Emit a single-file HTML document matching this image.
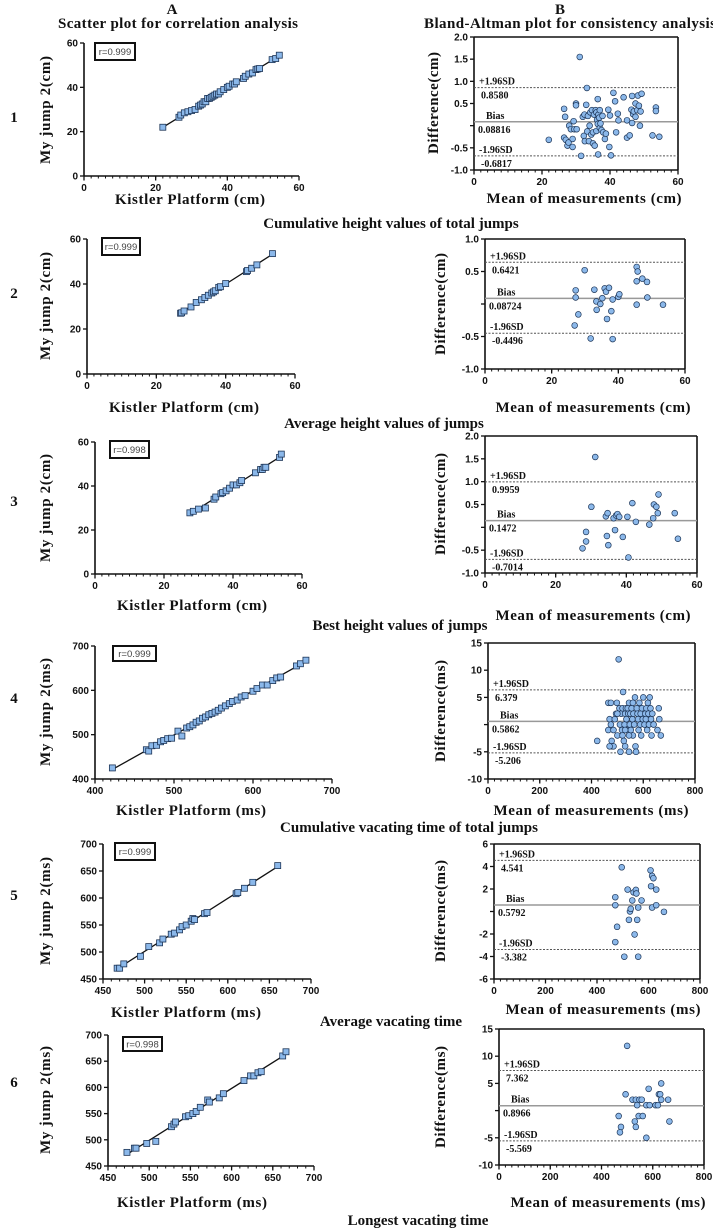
<!DOCTYPE html>
<html><head><meta charset="utf-8"><style>
html,body{margin:0;padding:0;background:#fff}
svg{display:block}
.tk{font-family:"Liberation Sans",sans-serif;font-weight:bold;font-size:10px;fill:#111}
.ti{font-family:"Liberation Serif",serif;font-weight:bold;font-size:15px;fill:#111}
.sm{font-family:"Liberation Serif",serif;font-weight:bold;font-size:10px;fill:#111}
</style></head><body>
<svg id="fig" width="713" height="1228" viewBox="0 0 713 1228" xmlns="http://www.w3.org/2000/svg">
<rect width="713" height="1228" fill="#fff"/>
<text class="ti" x="172" y="14" text-anchor="middle">A</text>
<text class="ti" x="178" y="28" text-anchor="middle" textLength="240">Scatter plot for correlation analysis</text>
<text class="ti" x="560" y="14" text-anchor="middle">B</text>
<text class="ti" x="570" y="28" text-anchor="middle" textLength="292">Bland-Altman plot for consistency analysis</text>
</svg>
<script>
// ---- data ----
const a1x=[22,26.5,27,28,29,30,31,32,32.5,33,33.5,34,34.5,35,35.5,36,36.5,37,37.5,38,39,40,40.5,41.5,42,42.5,44.5,45,46,47,48,48.5,49,52.5,53.5,54.5];
const a1y=[22,26.5,27.5,28.5,29,29.5,30,31.5,32,32.5,33.5,33.5,35,35,35.5,36,36.5,37,37,38,39,40,40.5,41.5,41.5,42.5,44,45,46,46.5,48,48.3,48.5,52.5,53,54.5];
const b1m=[22,26.5,26.8,26.5,27,27.5,27.8,28,28.5,29,29,29.3,29.5,30,30,30.2,31.1,31.5,32,32.3,32.5,32.6,33,33.2,33.3,33.5,33.8,34,34.2,34.5,34.7,35,35,35.3,35.5,35.8,36,36,36.2,36.4,36.4,36.5,36.6,36.8,37,37,37.2,37.5,37.8,38,38.5,38.8,39.5,39.8,40,40.3,41,41.5,41.8,42.3,42.5,44,45,45,45.8,46.3,46.5,46.5,46.8,47,47.5,47.5,48,48.2,48.5,48.8,49.3,49,52.5,53.5,53.5,54.5];
const b1d=[-0.32,0.38,0.2,-0.27,-0.32,-0.45,-0.38,0.0,-0.08,-0.48,-0.3,0.1,-0.08,0.5,0.46,-0.08,1.55,-0.68,0.2,-0.23,0.25,-0.35,0.47,0.85,-0.13,0.22,-0.35,0.0,0.3,-0.2,0.35,-0.15,-0.4,0.25,-0.45,0.35,0.3,-0.12,0.13,0.6,0.04,-0.65,0.25,0.18,-0.05,0.35,0.05,-0.1,0.22,-0.15,-0.3,-0.18,0.36,-0.48,0.23,-0.67,0.74,0.55,-0.15,0.27,0.12,0.64,-0.27,0.12,-0.22,0.36,0.06,0.67,0.26,0.32,0.5,0.2,0.35,0.68,0.45,0.0,0.72,0.32,-0.22,0.41,0.33,-0.25];
const a2x=[27,27.3,28,30,31.5,33,34,35,36,36.5,37,38,38.5,40,46,46.3,47.5,49,53.5];
const a2y=[27,27.2,28,29.8,31.8,33,34,35,36,36.5,37,38.5,38.8,40.2,45.5,46,47,48.5,53.5];
const b2m=[26.9,27.2,27.2,28,29.9,31.7,32.8,33.4,33.5,34.6,35.2,35.9,36.3,36.6,37.2,37.9,38.3,38.3,40,40.3,45.5,45.8,45.5,45.5,47.2,48.6,48.7,53.4];
const b2d=[-0.33,0.21,0.1,-0.16,0.52,-0.53,0.22,0.04,-0.09,0.0,0.09,0.24,0.19,-0.23,0.25,-0.11,0.07,-0.54,0.11,0.15,0.57,0.5,0.35,-0.01,0.39,0.34,0.1,-0.01];
const a3x=[27.5,28.5,30,32,34.5,35,36.5,37,38,39,40,41,42,42.5,46.5,48,48.5,49,49.5,53.5,54];
const a3y=[27.8,28.5,29.5,30,34,35,36.5,37,37.8,39,40.5,40.5,41.5,42.5,46,47.5,47.5,48.5,48.5,53,54.5];
const b3m=[31.2,30.1,27.6,28.6,28.6,34.2,34.7,34.5,34.9,36.4,36.8,37.1,37.5,38,39,40.3,40.6,41.7,42.7,46.5,47.6,47.8,48.5,48.9,49.1,53.7,54.6];
const b3d=[1.54,0.45,-0.46,-0.1,-0.31,0.24,0.31,-0.19,-0.39,0.2,-0.06,0.26,0.29,0.23,-0.21,0.23,-0.66,0.53,0.12,0.06,0.2,0.5,0.45,0.31,0.72,0.31,-0.25];
const a4x=[422,465,468,472,478,483,487,492,497,505,510,516,520,524,528,532,536,540,544,548,552,556,560,565,570,574,580,585,590,600,605,612,618,625,630,635,655,660,667];
const a4y=[425,466,463,475,476,484,487,491,492,508,497,515,518,522,528,531,537,540,545,548,551,555,560,565,570,575,578,585,588,598,604,612,612,622,628,630,655,660,668];
const b4m=[422,465,465,470,475,478,480,485,485,490,495,498,500,505,508,510,512,515,518,520,520,522,525,528,530,530,533,535,538,540,542,545,545,548,550,552,555,558,560,562,565,568,570,572,575,578,580,582,585,588,590,592,595,598,600,605,608,610,612,615,618,620,622,625,628,630,632,635,640,655,660,662,668,475,470,560,530,545,500];
const b4d=[-3,-1,4,1,0,-3,-4,-4,-1,1,2,4,-2,12,3,0,-5,2,-1,3,-2,6,-3,0,2,-4,3,1,-1,3,2,4,-5,0,2,-1,3,1,-2,2,0,5,-4,-5,3,2,1,-1,4,0,2,-2,3,1,5,0,2,1,3,-1,4,2,0,5,3,1,-2,2,0,-1,3,1,-2,4,-4,4,-1,-2,2];
const a5x=[467,470,475,495,505,518,522,532,536,542,545,550,556,558,560,572,575,610,612,620,630,660];
const a5y=[470,470,478,492,510,517,524,533,535,541,547,550,557,562,560,571,573,608,610,618,629,660];
const b5m=[496,471,471,478,471,506,519,528,524,537,531,542,551,546,560,556,560,573,608,614,619,610,630,614,630,660,553];
const b5d=[3.93,1.27,0.56,-1.36,-2.72,-4.02,1.95,0,-0.74,0.98,0.24,1.7,1.92,-2.04,0.35,-0.74,-4.02,0.98,3.66,3.16,2.96,2.25,1.95,0.35,0.56,-0.03,1.6];
const a6x=[473,482,484,497,508,527,530,532,544,548,553,557,562,571,573,585,590,615,623,627,632,636,662,666];
const a6y=[476,484,484,493,497,525,530,534,544,546,550,554,562,576,572,580,588,613,622,622,628,630,660,668];
const b6m=[500,494,467,476,472,521,534,548,557,539,530,534,545,561,575,584,588,575,611,620,624,629,633,633,660,665];
const b6d=[11.9,3,-1,-3,-4,2,2,2,2,1,-2,-3,-1,-1,1,4,1,-5,1,1,3,3,5,2,2,-2];
const rVals=["0.999","0.999","0.998","0.999","0.999","0.998"];
const biasVals=[0.08816,0.08724,0.1472,0.5862,0.5792,0.8966];
const upperVals=[0.8580,0.6421,0.9959,6.379,4.541,7.362];
const lowerVals=[-0.6817,-0.4496,-0.7014,-5.206,-3.382,-5.569];
const biasLabels=["0.08816","0.08724","0.1472","0.5862","0.5792","0.8966"];
const upperLabels=["0.8580","0.6421","0.9959","6.379","4.541","7.362"];
const lowerLabels=["-0.6817","-0.4496","-0.7014","-5.206","-3.382","-5.569"];
const aTicksCm=[0,20,40,60];
const aTicks4=[400,500,600,700];
const aTicks56=[450,500,550,600,650,700];
const bX60=[0,20,40,60];
const bX800=[0,200,400,600,800];
const bY1=[-1,-0.5,0,0.5,1,1.5,2];
const bY2=[-1,-0.5,0,0.5,1];
const bY4=[-10,-5,0,5,10,15];
const bY5=[-6,-4,-2,0,2,4,6];
const rowNums=["1","2","3","4","5","6"];
const captions=["Cumulative height values of total jumps","Average height values of jumps","Best height values of jumps","Cumulative vacating time of total jumps","Average vacating time","Longest vacating time"];

// ---- layout ----
const NS="http://www.w3.org/2000/svg";
const svg=document.getElementById('fig');
function mk(tag,attrs,parent,txt){const e=document.createElementNS(NS,tag);for(const k in attrs)e.setAttribute(k,attrs[k]);if(txt!==undefined)e.textContent=txt;(parent||svg).appendChild(e);return e;}
function fmt(v){if(Math.abs(v)<1e-9)return "0";let s=String(v);if(Number.isInteger(v))return s;return v.toFixed(1);}

const A=[
 {x0:84,x1:299,yt:43,yb:176,xr:[0,60],yr:[0,60],xt:aTicksCm,yt2:aTicksCm,minor:2,xs:a1x,ys:a1y,unit:"cm",rb:[95,43,40,17],xl:[190,204],yl:[45,110]},
 {x0:87,x1:295,yt:239,yb:374,xr:[0,60],yr:[0,60],xt:aTicksCm,yt2:aTicksCm,minor:2,xs:a2x,ys:a2y,unit:"cm",rb:[102,238,38,17],xl:[184,412],yl:[45,306]},
 {x0:95,x1:302,yt:442,yb:574,xr:[0,60],yr:[0,60],xt:aTicksCm,yt2:aTicksCm,minor:2,xs:a3x,ys:a3y,unit:"cm",rb:[110,441,39,17],xl:[192,610],yl:[45,508]},
 {x0:95,x1:332,yt:646,yb:779,xr:[400,700],yr:[400,700],xt:aTicks4,yt2:aTicks4,minor:10,xs:a4x,ys:a4y,unit:"ms",rb:[113,646,43,15],xl:[191,815],yl:[45,712]},
 {x0:103,x1:311,yt:844,yb:979,xr:[450,700],yr:[450,700],xt:aTicks56,yt2:aTicks56,minor:10,xs:a5x,ys:a5y,unit:"ms",rb:[115,843,40,17],xl:[186,1017],yl:[45,911]},
 {x0:108,x1:314,yt:1035,yb:1166,xr:[450,700],yr:[450,700],xt:aTicks56,yt2:aTicks56,minor:10,xs:a6x,ys:a6y,unit:"ms",rb:[123,1037,39,14],xl:[192,1207],yl:[45,1100]}
];
const B=[
 {x0:474,x1:678,yt:37,yb:170,xr:[0,60],yr:[-1,2],xt:bX60,yt2:bY1,minor:2,ms:b1m,ds:b1d,unit:"cm",xl:[584,203],yl:[433,103]},
 {x0:485,x1:685,yt:239,yb:369,xr:[0,60],yr:[-1,1],xt:bX60,yt2:bY2,minor:2,ms:b2m,ds:b2d,unit:"cm",xl:[593,412],yl:[440,304]},
 {x0:485,x1:697,yt:436,yb:573,xr:[0,60],yr:[-1,2],xt:bX60,yt2:bY1,minor:2,ms:b3m,ds:b3d,unit:"cm",xl:[593,620],yl:[440,504]},
 {x0:488,x1:695,yt:643,yb:779,xr:[0,800],yr:[-10,15],xt:bX800,yt2:bY4,minor:25,ms:b4m,ds:b4d,unit:"ms",xl:[591,815],yl:[440,711]},
 {x0:494,x1:700,yt:844,yb:979,xr:[0,800],yr:[-6,6],xt:bX800,yt2:bY5,minor:25,ms:b5m,ds:b5d,unit:"ms",xl:[603,1014],yl:[440,911]},
 {x0:499,x1:704,yt:1029,yb:1165,xr:[0,800],yr:[-10,15],xt:bX800,yt2:bY4,minor:25,ms:b6m,ds:b6d,unit:"ms",xl:[608,1207],yl:[440,1097]}
];
const capPos=[[391,228],[384,428],[400,630],[409,832],[391,1026],[418,1225]];
const rowY=[122,298,506,703,900,1087];

function axes(p,g,isB){
 const sx=v=>p.x0+(v-p.xr[0])/(p.xr[1]-p.xr[0])*(p.x1-p.x0);
 const sy=v=>p.yb-(v-p.yr[0])/(p.yr[1]-p.yr[0])*(p.yb-p.yt);
 // y axis
 const ya=mk('line',{x1:p.x0,y1:p.yt,x2:p.x0,y2:p.yb,stroke:'#111','stroke-width':1.6},g);
 
 const xa=mk('line',{x1:p.x0,y1:p.yb,x2:p.x1,y2:p.yb,stroke:'#111','stroke-width':1.6},g);
 
 if(isB){
  mk('line',{x1:p.x0,y1:p.yt,x2:p.x1,y2:p.yt,stroke:'#111','stroke-width':1.6},g);
  mk('line',{x1:p.x1,y1:p.yt,x2:p.x1,y2:p.yb,stroke:'#111','stroke-width':1.6},g);
 }
 for(const v of p.yt2){
  const y=sy(v);
  mk('line',{x1:p.x0-4,y1:y,x2:p.x0,y2:y,stroke:'#111','stroke-width':1.3},g);
  if(isB&&v===0)continue;
  const t=mk('text',{class:'tk',x:p.x0-6,y:y+3.5,'text-anchor':'end'},g,isB&&p.yr[1]<=2?v.toFixed(1):fmt(v));
  
 }
 for(let v=p.xr[0];v<=p.xr[1]+1e-9;v+=p.minor){
  const x=sx(v);
  mk('line',{x1:x,y1:p.yb,x2:x,y2:p.yb+2.5,stroke:'#111','stroke-width':1},g);
 }
 for(const v of p.xt){
  const x=sx(v);
  mk('line',{x1:x,y1:p.yb,x2:x,y2:p.yb+4.5,stroke:'#111','stroke-width':1.3},g);
  const t=mk('text',{class:'tk',x:x,y:p.yb+15,'text-anchor':'middle'},g,fmt(v));
  
 }
 return [sx,sy];
}

A.forEach((p,i)=>{
 const g=mk('g',{});
 
 
 const [sx,sy]=axes(p,g,false);
 // regression line from data
 const n=p.xs.length;let mx=0,my=0;p.xs.forEach((v,k)=>{mx+=v;my+=p.ys[k];});mx/=n;my/=n;
 let sxy=0,sxx=0;p.xs.forEach((v,k)=>{sxy+=(v-mx)*(p.ys[k]-my);sxx+=(v-mx)*(v-mx);});
 const b=sxy/sxx,a=my-b*mx;const lo=Math.min(...p.xs),hi=Math.max(...p.xs);
 const rl=mk('line',{x1:sx(lo),y1:sy(a+b*lo),x2:sx(hi),y2:sy(a+b*hi),stroke:'#111','stroke-width':1.3},g);
 
 
 p.xs.forEach((v,k)=>{
  const r=mk('rect',{x:sx(v)-3,y:sy(p.ys[k])-3,width:6,height:6,fill:'#8bb8ea',stroke:'#1d3557','stroke-width':0.8},g);
  
  
 });
 const bx=mk('rect',{x:p.rb[0],y:p.rb[1],width:p.rb[2],height:p.rb[3],fill:'#fff',stroke:'#111','stroke-width':2},g);
 
 
 const rt=mk('text',{x:p.rb[0]+p.rb[2]/2,y:p.rb[1]+p.rb[3]/2+3.5,'text-anchor':'middle','font-family':'Liberation Sans, sans-serif','font-size':'9.5',fill:'#444'},g,'r='+rVals[i]);
 
 
 const xl=mk('text',{class:'ti',x:p.xl[0],y:p.xl[1],'text-anchor':'middle',textLength:150},g,'Kistler Platform ('+p.unit+')');
 
 
 const yl=mk('text',{class:'ti',x:0,y:0,'text-anchor':'middle',textLength:108,transform:`translate(${p.yl[0]+5},${p.yl[1]}) rotate(-90)`,'xml:space':'preserve'},g,'My  jump 2('+p.unit+')');
 
 
});

B.forEach((p,i)=>{
 const g=mk('g',{});
 
 
 const [sx,sy]=axes(p,g,true);
 const lines=[[upperVals[i],'+1.96SD',upperLabels[i],true],[biasVals[i],'Bias',biasLabels[i],false],[lowerVals[i],'-1.96SD',lowerLabels[i],true]];
 lines.forEach(L=>{
  const y=sy(L[0]);
  const ln=mk('line',{x1:p.x0,y1:y,x2:p.x1,y2:y,stroke:L[3]?'#555':'#999','stroke-width':L[3]?1:1.5,'stroke-dasharray':L[3]?'2,1.5':'none'},g);
  
  
  const t1=mk('text',{class:'sm',x:p.x0+(L[3]?5:12),y:y-3},g,L[1]);
  
  
  const t2=mk('text',{class:'sm',x:p.x0+(L[1]==='Bias'?4:7),y:y+11},g,L[2]);
  
  
 });
 p.ms.forEach((v,k)=>{
  const c=mk('circle',{cx:sx(v),cy:sy(p.ds[k]),r:2.9,fill:'#8bb8ea',stroke:'#1d3557','stroke-width':0.7},g);
  
  
 });
 const xl=mk('text',{class:'ti',x:p.xl[0],y:p.xl[1],'text-anchor':'middle',textLength:195},g,'Mean of measurements ('+p.unit+')');
 
 
 const yl=mk('text',{class:'ti',x:0,y:0,'text-anchor':'middle',textLength:102,transform:`translate(${p.yl[0]+5},${p.yl[1]}) rotate(-90)`},g,'Difference('+p.unit+')');
 
 
});

captions.forEach((c,i)=>{
 const t=mk('text',{class:'ti',x:capPos[i][0],y:capPos[i][1],'text-anchor':'middle'},svg,c);
 
 
 const r=mk('text',{class:'ti',x:14,y:rowY[i],'text-anchor':'middle'},svg,rowNums[i]);
 
 
});
</script>
</body></html>
